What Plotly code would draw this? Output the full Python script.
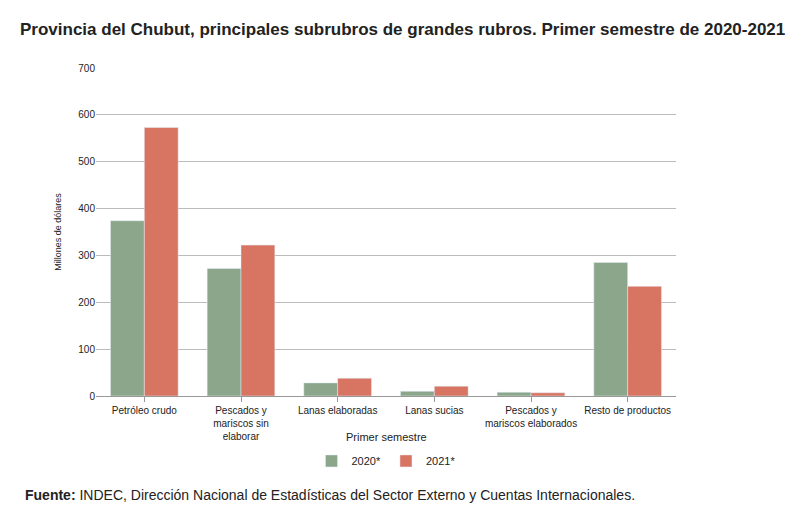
import plotly.graph_objects as go

categories = ["Petróleo crudo", "Pescados y<br>mariscos sin<br>elaborar", "Lanas elaboradas",
              "Lanas sucias", "Pescados y<br>mariscos elaborados", "Resto de productos"]
v2020 = [374, 272, 28, 10, 8, 285]
v2021 = [573, 322, 38, 21, 7, 234]

fig = go.Figure()
fig.add_bar(x=categories, y=v2020, name="2020*", marker_color="#8ba68b")
fig.add_bar(x=categories, y=v2021, name="2021*", marker_color="#d87462")

fig.update_layout(
    width=800, height=507, plot_bgcolor="white", paper_bgcolor="white",
    font=dict(family="Liberation Sans, Arial", size=10, color="#222"),
    margin=dict(l=88, r=132, t=60, b=119, autoexpand=False),
    bargap=0.3, bargroupgap=0,
    title=dict(text="<b>Provincia del Chubut, principales subrubros de grandes rubros. Primer semestre de 2020-2021</b>",
               x=0.015, y=0.97, xanchor="left", font=dict(size=17, family="Liberation Sans", color="#222")),
    legend=dict(orientation="h", x=0.5, xanchor="center", y=-0.198, yanchor="middle",
                font=dict(size=11)),
    showlegend=True,
)
fig.update_yaxes(range=[0, 700], dtick=100, showgrid=True, gridcolor="#bbbbbb",
                 title=dict(text="Millones de dólares", font=dict(size=9)), ticks="", zeroline=False)
fig.update_xaxes(showline=True, linecolor="#999", ticks="outside", tickcolor="#999", tickangle=0)
fig.add_annotation(text="Primer semestre", xref="paper", yref="paper", x=0.5, y=-0.149,
                   showarrow=False, font=dict(size=11))
fig.add_annotation(text="<b>Fuente:</b> INDEC, Dirección Nacional de Estadísticas del Sector Externo y Cuentas Internacionales.",
                   xref="paper", yref="paper", x=-0.126, y=-0.302, xanchor="left", yanchor="middle",
                   showarrow=False, font=dict(size=14))
fig.write_html("out.html")
